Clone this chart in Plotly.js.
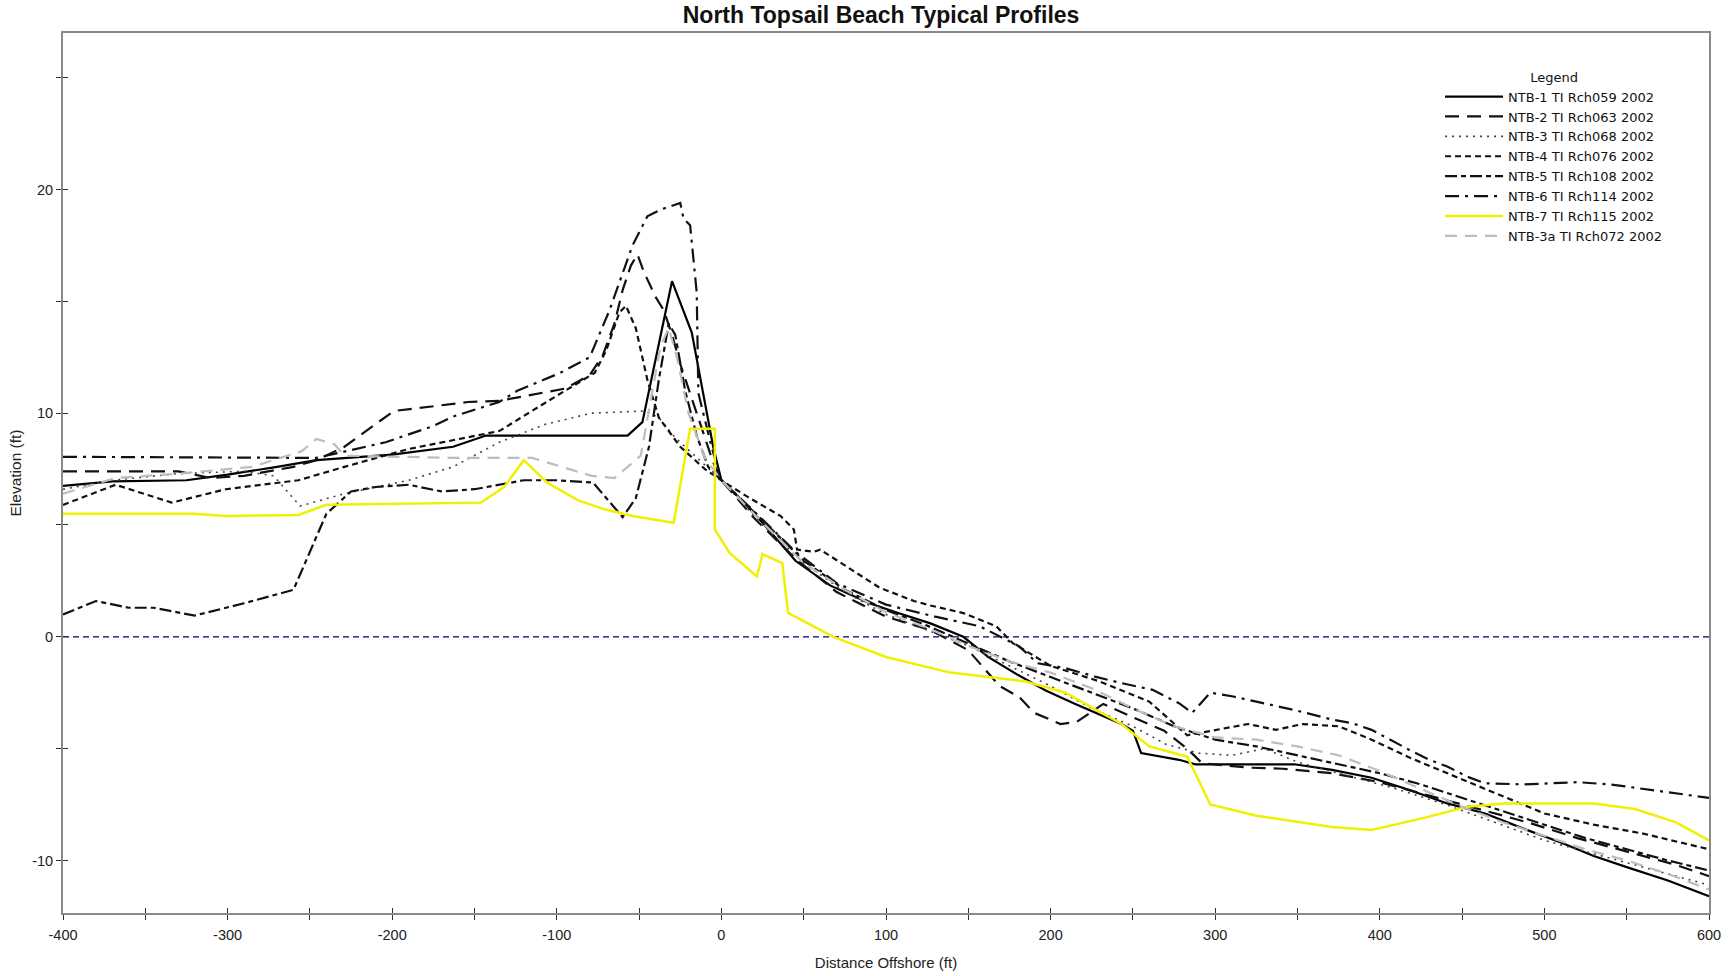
<!DOCTYPE html>
<html>
<head>
<meta charset="utf-8">
<script src="https://cdn.plot.ly/plotly-3.0.1.min.js"></script>
<style>
  html, body { margin: 0; padding: 0; background: #ffffff; }
  #chart { width: 1736px; height: 976px; }
</style>
</head>
<body>
<div id="chart"></div>
<script>
// ---- Data (distance offshore in ft, elevation in ft) ----
const seriesNames = [
  "NTB-1 TI Rch059 2002", "NTB-2 TI Rch063 2002", "NTB-3 TI Rch068 2002",
  "NTB-4 TI Rch076 2002", "NTB-5 TI Rch108 2002", "NTB-6 TI Rch114 2002",
  "NTB-7 TI Rch115 2002", "NTB-3a TI Rch072 2002"
];

const ntb1X = [-400,-370,-325,-300,-270,-246,-200,-163,-143,-100,-57,-48,-30,-18,-10,-5,0,15,25,45,66,90,106,127,147,162,180,197,215,227,243,250,255,278,288,320,348,371,395,418,441,464,488,510,530,550,575,600];
const ntb1Y = [6.75,6.95,7.0,7.25,7.6,7.9,8.15,8.5,9.0,9.0,9.0,9.6,15.9,13.6,10.5,8.5,7.0,5.9,5.1,3.4,2.3,1.5,1.1,0.6,0.0,-0.9,-1.7,-2.4,-3.0,-3.4,-3.9,-4.2,-5.2,-5.5,-5.7,-5.7,-5.7,-5.95,-6.3,-6.85,-7.45,-7.9,-8.6,-9.2,-9.8,-10.3,-10.9,-11.6];

const ntb2X = [-400,-330,-310,-290,-260,-246,-229,-199,-176,-154,-135,-110,-95,-80,-72,-65,-60,-55,-51,-47,-40,-35,-30,-25,-15,-5,0,20,45,70,100,127,150,169,181,190,206,216,222,232,250,269,283,292,320,341,371,400,430,460,490,520,550,580,600];
const ntb2Y = [7.4,7.4,7.1,7.2,7.6,7.9,8.5,10.1,10.3,10.5,10.55,10.9,11.1,11.7,12.6,14.0,15.5,16.6,17.1,16.3,15.2,14.6,13.5,12.2,10.0,7.8,7.0,5.3,3.5,2.0,0.9,0.3,-0.6,-2.2,-2.7,-3.4,-3.9,-3.8,-3.5,-3.0,-3.6,-4.2,-5.0,-5.65,-5.85,-5.9,-6.1,-6.5,-7.1,-7.7,-8.3,-9.0,-9.6,-10.2,-10.7];

const ntb3X = [-400,-370,-330,-290,-272,-256,-229,-190,-163,-135,-107,-79,-46,-38,-28,-15,0,25,50,75,100,125,150,175,200,225,250,270,290,310,330,350,380,410,440,470,500,530,560,600];
const ntb3Y = [6.6,7.0,7.3,7.4,7.2,5.85,6.4,7.0,7.6,8.7,9.5,10.0,10.1,9.8,8.9,8.0,7.0,5.0,3.3,2.0,1.0,0.3,-0.4,-1.3,-2.2,-3.2,-4.0,-4.8,-5.2,-5.3,-5.0,-5.6,-6.2,-6.8,-7.5,-8.3,-9.1,-9.7,-10.3,-11.1];

const ntb4X = [-400,-368,-334,-301,-257,-229,-190,-135,-104,-84,-77,-70,-62,-58,-52,-45,-38,-25,-10,0,15,36,44,46,56,60,76,96,117,127,147,167,177,200,230,260,283,302,320,337,353,375,395,418,441,470,500,530,560,600];
const ntb4Y = [5.9,6.8,6.0,6.6,7.0,7.6,8.4,9.2,10.6,11.5,11.8,12.8,14.5,14.8,13.8,11.5,9.8,8.5,7.5,7.0,6.3,5.4,4.8,3.9,3.8,3.9,3.15,2.2,1.6,1.4,1.06,0.47,-0.28,-1.3,-2.0,-2.9,-4.4,-4.16,-3.9,-4.16,-3.9,-4.0,-4.6,-5.4,-6.1,-7.0,-7.9,-8.4,-8.8,-9.5];

const ntb5X = [-400,-380,-360,-345,-320,-290,-260,-250,-240,-225,-210,-190,-170,-150,-120,-100,-78,-60,-52,-44,-38,-32,-28,-22,-15,-8,0,25,50,75,100,125,150,175,200,225,250,275,300,325,350,375,400,425,450,475,500,525,550,575,600];
const ntb5Y = [1.0,1.6,1.3,1.3,0.95,1.5,2.1,3.8,5.5,6.5,6.7,6.8,6.5,6.6,7.0,7.0,6.9,5.35,6.2,8.5,11.5,14.0,13.5,11.0,9.0,7.6,7.0,5.2,3.4,2.1,1.2,0.5,-0.3,-1.1,-1.8,-2.5,-3.2,-4.0,-4.6,-4.9,-5.3,-5.7,-6.1,-6.6,-7.2,-7.8,-8.4,-9.0,-9.5,-10.0,-10.45];

const ntb6X = [-400,-300,-246,-204,-176,-163,-135,-124,-98,-80,-68,-54,-45,-37,-25,-23,-19,-15,-14,-6,0,20,45,70,100,130,157,181,192,209,227,243,262,278,286,297,311,325,348,371,383,395,406,418,430,441,453,464,488,504,520,540,560,580,600];
const ntb6Y = [8.05,8.0,8.0,8.7,9.4,9.85,10.5,11.0,11.8,12.5,14.6,17.5,18.8,19.1,19.4,18.7,18.4,15.4,10.9,8.5,7.0,5.6,3.8,2.4,1.44,0.9,0.47,-0.43,-1.18,-1.4,-1.78,-2.07,-2.37,-2.97,-3.4,-2.5,-2.67,-2.9,-3.27,-3.7,-3.86,-4.16,-4.6,-5.06,-5.5,-5.8,-6.25,-6.55,-6.6,-6.55,-6.5,-6.6,-6.8,-7.0,-7.2];

const ntb7X = [-400,-321,-301,-257,-240,-190,-146,-132,-120,-106,-87,-71,-54,-29,-19,-4,-4,5,21.6,25,37,40.5,68,100,139,185,209,243,260,283,297,325,371,395,430,453,476,504,530,555,580,600];
const ntb7Y = [5.5,5.5,5.4,5.45,5.9,5.95,6.0,6.7,7.9,6.9,6.1,5.7,5.4,5.1,9.3,9.3,4.8,3.75,2.7,3.7,3.3,1.07,0.0,-0.9,-1.6,-2.0,-2.5,-3.9,-4.9,-5.36,-7.5,-8.0,-8.5,-8.64,-8.04,-7.6,-7.45,-7.45,-7.45,-7.7,-8.3,-9.1];

const ntb3aX = [-400,-368,-329,-285,-255,-246,-235,-229,-163,-115,-79,-65,-49,-43,-37,-32,-27,-20,-10,0,25,50,75,100,125,150,175,200,225,250,275,300,325,350,375,400,425,450,475,500,525,550,575,600];
const ntb3aY = [6.4,7.1,7.3,7.6,8.3,8.85,8.6,8.1,8.0,8.0,7.2,7.1,8.1,10.5,13.0,13.8,12.5,10.0,8.0,7.0,5.1,3.3,2.1,1.1,0.4,-0.4,-1.1,-1.6,-2.3,-3.2,-4.0,-4.5,-4.6,-4.9,-5.3,-6.0,-6.8,-7.6,-8.3,-8.9,-9.5,-10.0,-10.6,-11.3];

const xTickVals = [-400,-300,-200,-100,0,100,200,300,400,500,600];
const yTickVals = [-10,0,10,20];

// ---- Styles ----
const styles = [
  {color:"#000000", width:2.2, dash:"solid"},
  {color:"#111111", width:2.2, dash:"14px,8px"},
  {color:"#444444", width:1.6, dash:"2px,5px"},
  {color:"#111111", width:2.2, dash:"6px,4px"},
  {color:"#111111", width:2.2, dash:"12px,4px,5px,4px"},
  {color:"#111111", width:2.2, dash:"14px,6px,3px,6px"},
  {color:"#f0f000", width:2.5, dash:"solid"},
  {color:"#bdbdbd", width:2.2, dash:"12px,8px"}
];

const xs = [ntb1X, ntb2X, ntb3X, ntb4X, ntb5X, ntb6X, ntb7X, ntb3aX];
const ys = [ntb1Y, ntb2Y, ntb3Y, ntb4Y, ntb5Y, ntb6Y, ntb7Y, ntb3aY];

const traces = seriesNames.map((name, i) => ({
  type: "scatter",
  mode: "lines",
  name: name,
  x: xs[i],
  y: ys[i],
  line: styles[i],
  hoverinfo: "skip"
}));
// empty helper trace so that the inner-tick overlay axes are drawn
traces.push({type: "scatter", mode: "lines", x: [], y: [], xaxis: "x2", yaxis: "y2",
             showlegend: false, hoverinfo: "skip"});

const fontFam = "Liberation Sans, Arial, Helvetica, sans-serif";
const legendFam = "DejaVu Sans, Liberation Sans, sans-serif";
const axisCommon = {
  showline: true, mirror: true, linecolor: "#8a8a8a", linewidth: 2,
  showgrid: false, zeroline: false,
  ticks: "outside", ticklen: 5, tickwidth: 1, tickcolor: "#333",
  tickfont: {family: fontFam, size: 14.5, color: "#222"},
  fixedrange: true
};

const layout = {
  width: 1736, height: 976,
  paper_bgcolor: "#ffffff", plot_bgcolor: "#ffffff",
  margin: {l: 63, r: 27, t: 33, b: 63, pad: 0},
  title: {text: "<b>North Topsail Beach Typical Profiles</b>", xref: "paper", x: 0.497, xanchor: "center",
          y: 0.985, yanchor: "middle",
          font: {family: fontFam, size: 23, color: "#111"}},
  xaxis: Object.assign({}, axisCommon, {
    range: [-400, 600], tickvals: xTickVals, ticktext: xTickVals.map(String),
    ticklabelstandoff: 3,
    minor: {dtick: 50, tick0: 0, ticks: "outside", ticklen: 5, tickcolor: "#333"},
    title: {text: "Distance Offshore (ft)", standoff: 15, font: {family: fontFam, size: 15, color: "#222"}},
    automargin: false
  }),
  yaxis: Object.assign({}, axisCommon, {
    range: [-12.35, 27.0], tickvals: yTickVals, ticktext: yTickVals.map(String),
    minor: {dtick: 5, tick0: 0, ticks: "outside", ticklen: 5, tickcolor: "#333"},
    title: {text: "Elevation (ft)", standoff: 7, font: {family: fontFam, size: 15.5, color: "#222"}},
    automargin: false
  }),
  xaxis2: {overlaying: "x", matches: "x", side: "bottom", anchor: "y2", showline: false, showgrid: false, zeroline: false,
           ticks: "inside", ticklen: 5, tickcolor: "#333", tickvals: xTickVals, showticklabels: false,
           minor: {dtick: 50, tick0: 0, ticks: "inside", ticklen: 5, tickcolor: "#333"}, fixedrange: true},
  yaxis2: {overlaying: "y", matches: "y", side: "left", anchor: "x2", showline: false, showgrid: false, zeroline: false,
           ticks: "inside", ticklen: 5, tickcolor: "#333", tickvals: yTickVals, showticklabels: false,
           minor: {dtick: 5, tick0: 0, ticks: "inside", ticklen: 5, tickcolor: "#333"}, fixedrange: true},
  shapes: [{type: "line", xref: "paper", x0: 0, x1: 1, yref: "y", y0: 0, y1: 0,
            line: {color: "#000080", width: 1.2, dash: "6px,4px"}, layer: "below"}],
  legend: {
    x: 0.8366, y: 0.964, xanchor: "left", yanchor: "top",
    bgcolor: "rgba(255,255,255,0)", borderwidth: 0,
    font: {family: legendFam, size: 13, color: "#111"},
    title: {text: "Legend", side: "top center", font: {family: legendFam, size: 13, color: "#111"}},
    tracegroupgap: 0, itemwidth: 58
  },
  showlegend: true
};

Plotly.newPlot("chart", traces, layout, {displayModeBar: false, staticPlot: true});
</script>
</body>
</html>
